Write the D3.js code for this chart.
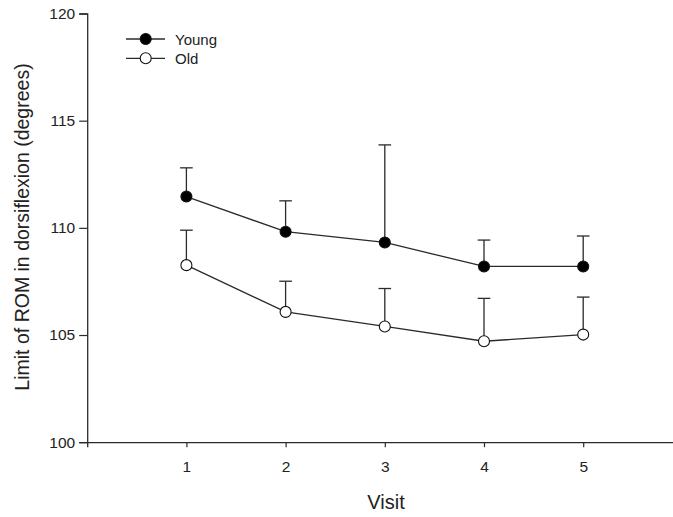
<!DOCTYPE html>
<html>
<head>
<meta charset="utf-8">
<script src="https://cdn.jsdelivr.net/npm/d3@7"></script>
<style>
  html, body { margin: 0; padding: 0; background: #fff; }
  svg { display: block; font-family: "Liberation Sans", Arial, sans-serif; }
</style>
</head>
<body>
<svg id="chart" width="673" height="517"></svg>
<script>
// Limit of ROM in dorsiflexion by visit, mean with upper error bar
const visits = [1, 2, 3, 4, 5];
const youngMean = [111.46, 109.82, 109.32, 108.20, 108.20];
const youngUpper = [112.80, 111.26, 113.87, 109.43, 109.62];
const oldMean = [108.26, 106.08, 105.40, 104.71, 105.02];
const oldUpper = [109.89, 107.51, 107.17, 106.71, 106.77];
const yTicks = [100, 105, 110, 115, 120];
const seriesNames = ["Young", "Old"];

const svg = d3.select("#chart");
const ink = "#2b2b2b";

const x = d3.scaleLinear().domain([0, 6]).range([87.2, 682.4]);
const y = d3.scaleLinear().domain([100, 120]).range([442.2, 13.5]);

// Axes
const yAxis = d3.axisLeft(y).tickValues(yTicks).tickSize(8).tickPadding(4).tickFormat(d3.format("d"));
const xAxis = d3.axisBottom(x).tickValues(visits).tickSize(5).tickPadding(14).tickFormat(d3.format("d"));

const gy = svg.append("g").attr("transform", `translate(${x(0)},0)`).call(yAxis);
const gx = svg.append("g").attr("transform", `translate(0,${y(100)})`).call(xAxis);

[gx, gy].forEach(g => {
  g.select(".domain").attr("stroke", ink).attr("stroke-width", 1.3);
  g.selectAll(".tick line").attr("stroke", ink).attr("stroke-width", 1.2);
  g.selectAll(".tick text").attr("fill", "#222").style("font-size", "15.5px")
    .style("font-family", '"Liberation Sans", Arial, sans-serif');
});

// Axis titles
svg.append("text")
  .attr("x", 386).attr("y", 509)
  .attr("text-anchor", "middle")
  .attr("fill", "#222")
  .style("font-size", "20px")
  .text("Visit");

svg.append("text")
  .attr("transform", "translate(28.5,227) rotate(-90)")
  .attr("text-anchor", "middle")
  .attr("fill", "#222")
  .style("font-size", "19.5px")
  .text("Limit of ROM in dorsiflexion (degrees)");

const series = [
  { name: seriesNames[0], mean: youngMean, upper: youngUpper, fill: "#000" },
  { name: seriesNames[1], mean: oldMean, upper: oldUpper, fill: "#fff" }
];

const capHalf = 6.3;
const r = 5.5;

series.forEach(s => {
  const g = svg.append("g");
  // error bars (upper only)
  visits.forEach((v, i) => {
    g.append("line")
      .attr("x1", x(v)).attr("x2", x(v))
      .attr("y1", y(s.mean[i])).attr("y2", y(s.upper[i]))
      .attr("stroke", ink).attr("stroke-width", 1.3);
    g.append("line")
      .attr("x1", x(v) - capHalf).attr("x2", x(v) + capHalf)
      .attr("y1", y(s.upper[i])).attr("y2", y(s.upper[i]))
      .attr("stroke", ink).attr("stroke-width", 1.3);
  });
  // connecting line
  const line = d3.line().x((d, i) => x(visits[i])).y(d => y(d));
  g.append("path")
    .datum(s.mean)
    .attr("d", line)
    .attr("fill", "none")
    .attr("stroke", ink)
    .attr("stroke-width", 1.3);
  // markers
  g.selectAll("circle")
    .data(s.mean)
    .join("circle")
    .attr("cx", (d, i) => x(visits[i]))
    .attr("cy", d => y(d))
    .attr("r", r)
    .attr("fill", s.fill)
    .attr("stroke", "#111")
    .attr("stroke-width", 1.1);
});

// Legend
const legend = svg.append("g");
series.forEach((s, i) => {
  const ly = 39 + i * 19.3;
  legend.append("line")
    .attr("x1", 126).attr("x2", 165)
    .attr("y1", ly).attr("y2", ly)
    .attr("stroke", ink).attr("stroke-width", 1.3);
  legend.append("circle")
    .attr("cx", 145.7).attr("cy", ly).attr("r", r)
    .attr("fill", s.fill).attr("stroke", "#111").attr("stroke-width", 1.1);
  legend.append("text")
    .attr("x", 175).attr("y", ly + 5.5)
    .attr("fill", "#222")
    .style("font-size", "15px")
    .text(s.name);
});
</script>
</body>
</html>
